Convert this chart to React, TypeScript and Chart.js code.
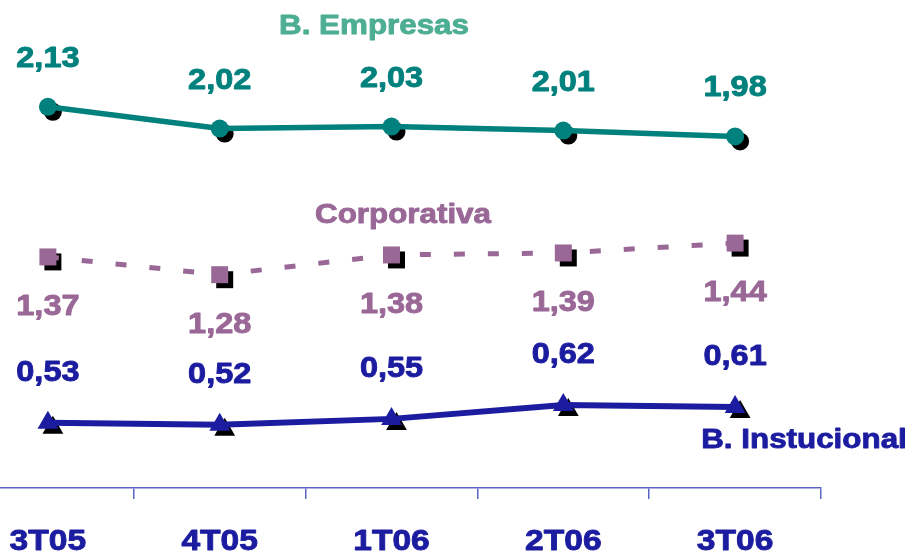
import React, { useEffect, useRef } from "react";
import { Chart, registerables } from "chart.js";

Chart.register(...registerables);

const categories = ["3T05", "4T05", "1T06", "2T06", "3T06"];
const empresas = [2.13, 2.02, 2.03, 2.01, 1.98];
const corporativa = [1.37, 1.28, 1.38, 1.39, 1.44];
const institucional = [0.53, 0.52, 0.55, 0.62, 0.61];

const C_EMP = "#00817D";
const C_EMP_TITLE = "#4DAE93";
const C_CORP = "#9A6897";
const C_INST = "#1C1CA0";
const C_AXIS = "#5A64C2";
const FONT = "'Liberation Sans', Arial, sans-serif";
const STRETCH = 1.12;
const SHIFT = 60; // canvas is shifted left by this many px

function drawText(ctx: CanvasRenderingContext2D, text: string, x: number, y: number, color: string, size: number) {
  ctx.save();
  ctx.translate(x, y);
  ctx.scale(STRETCH, 1);
  ctx.font = `bold ${size}px ${FONT}`;
  ctx.fillStyle = color;
  ctx.strokeStyle = color;
  ctx.lineWidth = 0.9;
  ctx.lineJoin = "round";
  ctx.textAlign = "center";
  ctx.textBaseline = "alphabetic";
  ctx.fillText(text, 0, 0);
  ctx.strokeText(text, 0, 0);
  ctx.restore();
}

const fmt = (v: number) => v.toFixed(2).replace(".", ",");

const shadowPlugin = {
  id: "markerShadows",
  beforeDatasetsDraw(chart: any) {
    const ctx = chart.ctx as CanvasRenderingContext2D;
    ctx.save();
    ctx.fillStyle = "#000000";
    chart.data.datasets.forEach((ds: any, i: number) => {
      const meta = chart.getDatasetMeta(i);
      meta.data.forEach((pt: any) => {
        const x = pt.x + 5;
        const y = pt.y + 5;
        const r = ds.pointRadius;
        ctx.beginPath();
        if (ds.pointStyle === "circle") {
          ctx.arc(x, y, r, 0, Math.PI * 2);
        } else if (ds.pointStyle === "rect") {
          const s = r * Math.SQRT2;
          ctx.rect(x - s / 2, y - s / 2, s, s);
        } else {
          const w = r * Math.sqrt(3) / 2;
          ctx.moveTo(x, y - r);
          ctx.lineTo(x + w, y + r / 2);
          ctx.lineTo(x - w, y + r / 2);
          ctx.closePath();
        }
        ctx.fill();
      });
    });
    ctx.restore();
  },
};

const labelPlugin = {
  id: "valueLabels",
  afterDatasetsDraw(chart: any) {
    const ctx = chart.ctx as CanvasRenderingContext2D;
    const specs = [
      { dy: -40, color: C_EMP },
      { dy: 58, color: C_CORP },
      { dy: -42, color: C_INST },
    ];
    chart.data.datasets.forEach((ds: any, i: number) => {
      const meta = chart.getDatasetMeta(i);
      meta.data.forEach((pt: any, j: number) => {
        drawText(ctx, fmt(ds.data[j]), pt.x, pt.y + specs[i].dy, specs[i].color, 29);
      });
    });
    // category labels via the x scale
    const xs = chart.scales.x;
    categories.forEach((c, i) => {
      drawText(ctx, c, xs.getPixelForValue(i), 550, C_INST, 30);
    });
    // series names
    drawText(ctx, "B. Empresas", 374 + SHIFT, 34, C_EMP_TITLE, 28);
    drawText(ctx, "Corporativa", 403 + SHIFT, 223, C_CORP, 28);
    drawText(ctx, "B. Instucional", 804 + SHIFT, 448, C_INST, 28);
  },
};

export default function App() {
  const ref = useRef<HTMLCanvasElement | null>(null);
  useEffect(() => {
    if (!ref.current) return;
    const chart = new Chart(ref.current, {
      type: "line",
      data: {
        labels: categories,
        datasets: [
          {
            label: "B. Empresas",
            data: empresas,
            borderColor: C_EMP,
            backgroundColor: C_EMP,
            borderWidth: 5.5,
            pointStyle: "circle",
            pointRadius: 9,
            pointBackgroundColor: C_EMP,
            pointBorderWidth: 0,
            tension: 0,
          },
          {
            label: "Corporativa",
            data: corporativa,
            borderColor: C_CORP,
            backgroundColor: C_CORP,
            borderWidth: 5,
            borderDash: [11, 23],
            pointStyle: "rect",
            pointRadius: 12,
            pointBackgroundColor: C_CORP,
            pointBorderWidth: 0,
            tension: 0,
          },
          {
            label: "B. Instucional",
            data: institucional,
            borderColor: C_INST,
            backgroundColor: C_INST,
            borderWidth: 6,
            pointStyle: "triangle",
            pointRadius: 12,
            pointBackgroundColor: C_INST,
            pointBorderWidth: 0,
            tension: 0,
          },
        ],
      },
      options: {
        animation: false,
        responsive: false,
        maintainAspectRatio: false,
        devicePixelRatio: 1,
        layout: { padding: { left: 22, right: 91, top: 14, bottom: 1 } },
        plugins: {
          legend: { display: false },
          tooltip: { enabled: false },
        },
        scales: {
          x: {
            type: "category",
            offset: true,
            grid: {
              offset: true,
              drawOnChartArea: false,
              drawTicks: true,
              tickLength: 11,
              color: C_AXIS,
              lineWidth: 1.5,
            },
            border: { display: true, color: C_AXIS, width: 1.5 },
            ticks: { display: false },
            afterFit: (scale: any) => {
              scale.height = 66;
            },
          },
          y: {
            type: "linear",
            display: false,
            min: 0.2,
            max: 2.6,
          },
        },
      },
      plugins: [shadowPlugin, labelPlugin],
    });
    return () => chart.destroy();
  }, []);

  return (
    <div
      style={{
        position: "fixed",
        left: 0,
        top: 0,
        width: 912,
        height: 555,
        overflow: "hidden",
        background: "#ffffff",
      }}
    >
      <canvas
        ref={ref}
        width={972}
        height={555}
        style={{ position: "absolute", left: -SHIFT, top: 0, width: 972, height: 555 }}
      />
    </div>
  );
}
